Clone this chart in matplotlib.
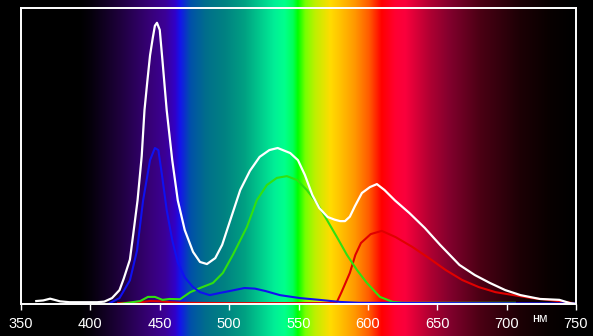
import numpy as np
import matplotlib.pyplot as plt
from matplotlib.transforms import blended_transform_factory

plt.rcParams['font.family'] = ['Liberation Sans', 'DejaVu Sans']

# spectrum curves, wavelength (nm) -> relative level (% of plot height)
white_nm = [361, 366, 371, 375, 378, 385, 395, 405, 410, 415.6, 421, 424, 428.5, 431, 434, 437,
            439, 441, 443, 445, 446.5, 448, 450, 452, 455, 459, 463, 468, 474, 479, 484,
            490, 495, 500.6, 508, 515, 522, 529, 535, 544, 549.6, 554.6, 560, 565, 571, 576,
            580, 583.5, 587, 590.6, 595.7, 601.5, 606.5, 612, 619.5, 630, 641, 652, 666,
            677, 688, 699, 710, 724, 738, 745.6, 749]
white_v = [1.0, 1.2, 1.8, 1.3, 0.9, 0.6, 0.6, 0.6, 0.8, 2.0, 4.7, 8.5, 15, 24, 35, 50,
           65.5, 75, 84, 90, 94, 95, 92.6, 82, 65.5, 48.6, 35, 25, 17.6, 14.2, 13.5,
           15.5, 20, 28, 38.5, 45, 49.7, 52, 52.7, 51, 48.6, 43.6, 36.8, 32.4, 29.4, 28.5,
           28, 28, 29.5, 33, 37.5, 39.5, 40.5, 38.5, 35, 30.7, 25.7, 20, 13.2,
           9.8, 7.1, 4.7, 3.0, 1.7, 1.4, 0.3, 0.1]

blue_nm = [414, 421, 428.5, 433.6, 438, 443, 446.5, 449, 451.6, 455, 459, 463, 468, 474,
           479, 486, 493, 500.6, 511, 518.6, 526, 536.6, 551, 565, 580, 594, 650, 750]
blue_v = [0.3, 2.0, 8.0, 18, 35, 48.6, 52.7, 52, 43.6, 31.8, 21.6, 14, 9, 5.7,
          4.0, 3.0, 3.7, 4.4, 5.4, 5.2, 4.4, 3.0, 2.0, 1.4, 0.7, 0.4, 0.3, 0.2]

green_nm = [421, 436, 441.5, 446.5, 452, 457, 464.6, 472, 479, 488.3, 495.5, 502.7, 512.8,
            520, 527.2, 534.4, 541.6, 548.9, 556, 563.3, 570.5, 577.7, 584.9, 592.1,
            599.3, 608.7, 618, 625, 672, 697, 706]
green_v = [0.0, 1.0, 2.4, 2.4, 1.4, 1.7, 1.6, 4.0, 5.4, 7.1, 10.5, 16.6, 26,
           35.1, 40.2, 42.6, 43.2, 41.9, 38.5, 34.1, 28.4, 22.6, 16.6, 11.5,
           7.1, 2.4, 0.7, 0.4, 0.4, 0.4, 0.4]

red_nm = [420, 436, 443, 450, 458, 465, 500, 560, 575, 577.7, 581, 587, 591, 595, 602, 610,
          620, 632, 644, 656, 668, 680, 692, 705, 718, 730, 742, 748]
red_v = [0.3, 0.6, 1.0, 0.9, 0.6, 0.4, 0.3, 0.3, 0.3, 0.7, 4.0, 10.5, 16.6, 20.6, 23.6, 24.7,
         22.6, 19.3, 15.5, 11.5, 8.1, 5.7, 4.0, 3.0, 2.0, 1.4, 0.7, 0.3]

# background spectrum colour stops
bg_nm = [334, 392, 400, 421, 443, 454, 461, 464.6, 472, 483, 497, 511, 522, 533, 540, 546,
         549.6, 555, 562, 573, 580, 591, 601, 610, 620, 627, 645, 659, 681, 710, 731, 750, 763]
bg_rgb = [(0, 0, 0), (0, 0, 0), (5, 0, 10), (30, 0, 60), (55, 0, 120), (60, 0, 150),
          (50, 0, 200), (20, 20, 235), (0, 80, 170), (0, 110, 140), (0, 130, 130),
          (0, 160, 130), (0, 200, 140), (0, 240, 150), (0, 255, 140), (0, 255, 90),
          (0, 255, 0), (120, 255, 0), (190, 240, 0), (255, 220, 0), (255, 195, 0),
          (255, 150, 0), (255, 90, 0), (255, 0, 0), (255, 0, 50), (250, 0, 60),
          (175, 0, 50), (130, 0, 45), (75, 0, 20), (28, 0, 5), (8, 0, 0), (0, 0, 0), (0, 0, 0)]

ticks = [350, 400, 450, 500, 550, 600, 650, 700, 750]

W, H = 593, 336
fig = plt.figure(figsize=(W / 100, H / 100), dpi=100)
fig.patch.set_facecolor('black')

# axes box in pixels
x0, x1, ytop, ybot = 21, 576, 8, 304
nm_per_px = (750 - 350) / (x1 - x0)
fig_nm0 = 350 - x0 * nm_per_px
fig_nm1 = 350 + (W - x0) * nm_per_px

# spectrum behind everything, full figure height
bg = fig.add_axes([0, 0, 1, 1])
grid = np.linspace(fig_nm0, fig_nm1, 1200)
rgb = np.array(bg_rgb) / 255.0
img = np.stack([np.interp(grid, bg_nm, rgb[:, i]) for i in range(3)], axis=-1)[None, :, :]
bg.imshow(img, extent=[fig_nm0, fig_nm1, 0, 1], aspect='auto', interpolation='bilinear')
bg.set_xlim(fig_nm0, fig_nm1)
bg.set_ylim(0, 1)
bg.axis('off')

ax = fig.add_axes([x0 / W, (H - ybot) / H, (x1 - x0) / W, (ybot - ytop) / H])
ax.patch.set_alpha(0)

ax.plot(red_nm, red_v, color='#e00000', lw=1.5)
ax.plot(green_nm, green_v, color='#30e010', lw=1.5)
ax.plot(blue_nm, blue_v, color='#1010f0', lw=1.5)
ax.plot(white_nm, white_v, color='white', lw=1.6)

ax.set_xlim(350, 750)
ax.set_ylim(0, 100)
ax.set_xticks(ticks)
ax.set_yticks([])
ax.tick_params(axis='x', colors='white', direction='out', length=4, width=1,
               pad=5, labelsize=10.5)
for s in ax.spines.values():
    s.set_color('white')
    s.set_linewidth(1.4)

tr = blended_transform_factory(ax.transData, ax.transAxes)
ax.text(724, -0.05, 'нм', color='white', fontsize=9, ha='center', va='center',
        transform=tr)

fig.savefig('out.png', dpi=100, facecolor='black')
